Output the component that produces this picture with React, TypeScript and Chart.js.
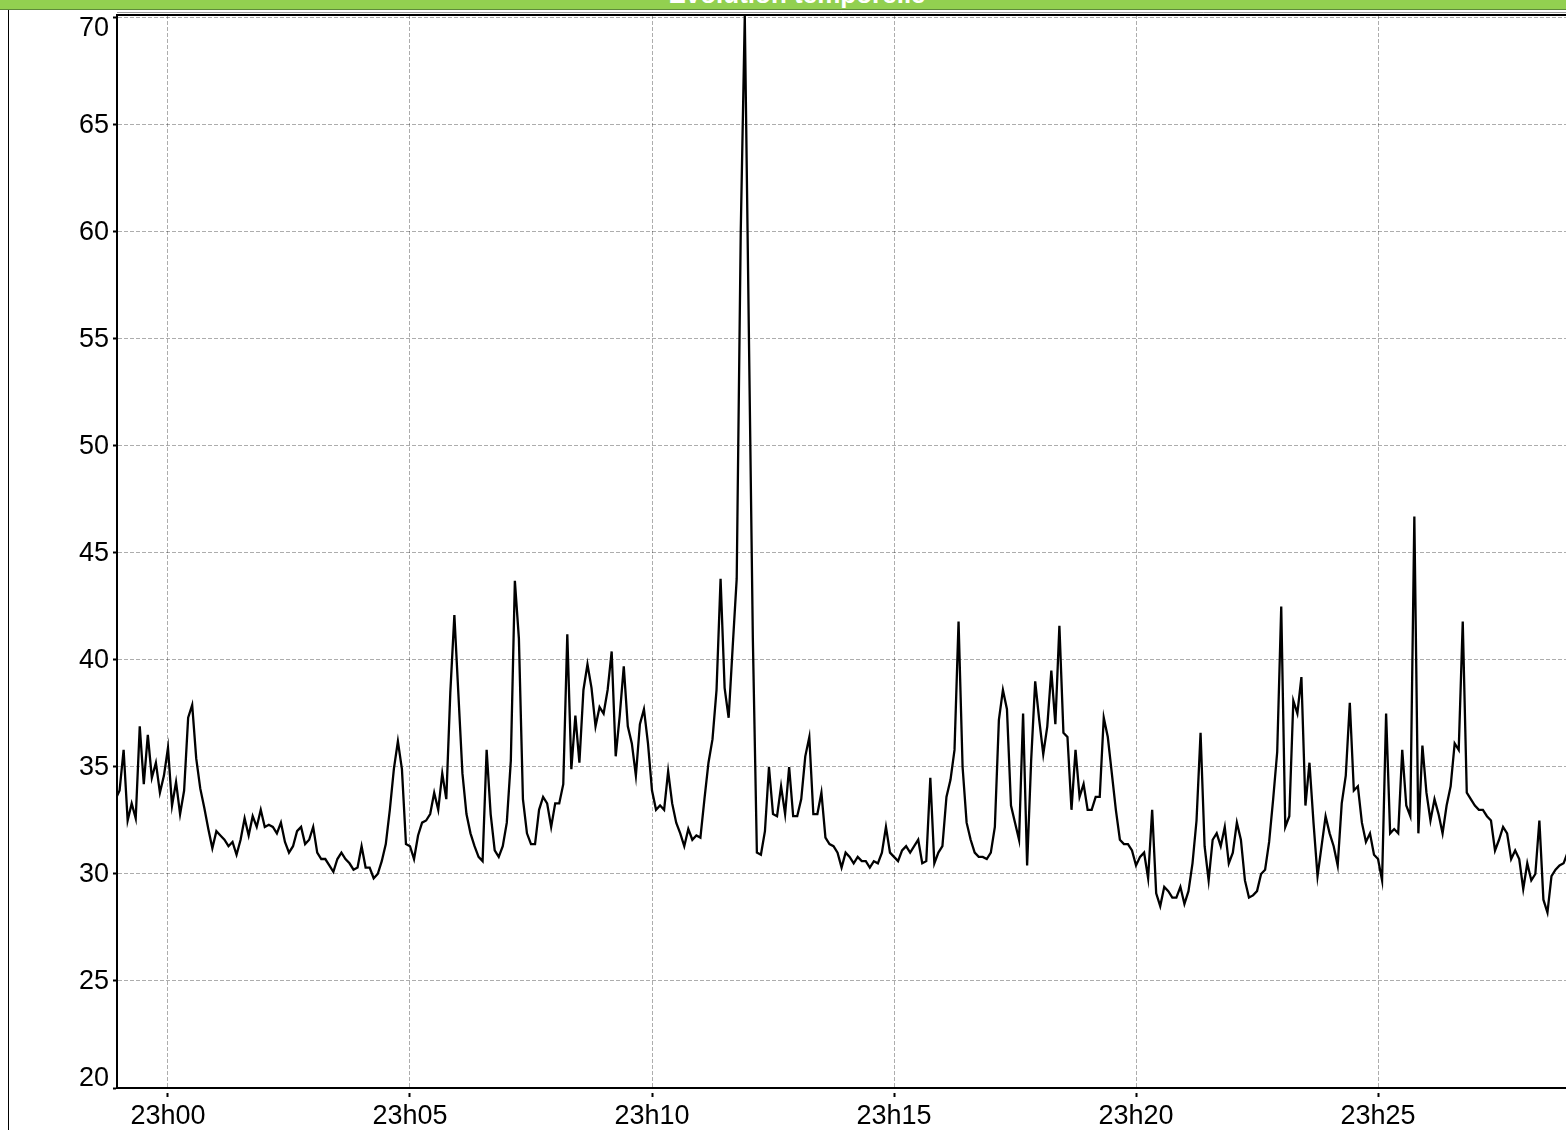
import React, { useEffect, useRef } from "react";
import { Chart, registerables } from "chart.js";

Chart.register(...registerables);

const TITLE = "Evolution temporelle";

// Sampling of the series: seconds relative to 23h00, one value every 5 s
const START_SECONDS = -65;
const STEP_SECONDS = 5;

// 22h58m55 -> 23h06m25
const VALUES_1 = [
  33.5, 33.9, 35.8, 32.5, 33.3, 32.6, 36.9, 34.2, 36.5, 34.5,
  35.2, 33.8, 34.6, 35.9, 33.2, 34.3, 32.8, 33.9, 37.3, 37.9,
  35.4, 34.0, 33.1, 32.1, 31.2, 32.0, 31.8, 31.6, 31.3, 31.5,
  30.9, 31.6, 32.6, 31.8, 32.7, 32.2, 33.0, 32.2, 32.3, 32.2,
  31.9, 32.4, 31.5, 31.0, 31.3, 32.0, 32.2, 31.4, 31.6, 32.2,
  31.0, 30.7, 30.7, 30.4, 30.1, 30.7, 31.0, 30.7, 30.5, 30.2,
  30.3, 31.3, 30.3, 30.3, 29.8, 30.0, 30.6, 31.4, 33.0, 34.9,
  36.2, 34.9, 31.4, 31.3, 30.7, 31.8, 32.4, 32.5, 32.8, 33.8,
  33.0, 34.7, 33.5, 38.5, 42.1, 38.4, 34.7, 32.8, 31.9, 31.3,
];

// 23h06m25 -> 23h13m55
const VALUES_2 = [
  30.8, 30.6, 35.8, 32.8, 31.1, 30.8, 31.3, 32.4, 35.3, 43.7,
  41.0, 33.5, 31.9, 31.4, 31.4, 33.0, 33.6, 33.3, 32.2, 33.3,
  33.3, 34.2, 41.2, 34.9, 37.4, 35.2, 38.6, 39.8, 38.7, 36.9,
  37.8, 37.5, 38.6, 40.4, 35.5, 37.4, 39.7, 36.9, 36.1, 34.6,
  37.0, 37.7, 36.1, 33.9, 33.0, 33.2, 33.0, 34.8, 33.3, 32.4,
  31.9, 31.3, 32.1, 31.6, 31.8, 31.7, 33.5, 35.2, 36.3, 38.6,
  43.8, 38.7, 37.3, 40.6, 43.8, 60.0, 70.1, 55.5, 41.0, 31.0,
  30.9, 32.0, 35.0, 32.8, 32.7, 34.1, 32.8, 35.0, 32.7, 32.7,
  33.5, 35.5, 36.4, 32.8, 32.8, 33.8, 31.7, 31.4, 31.3, 31.0,
];

// 23h13m55 -> 23h21m25
const VALUES_3 = [
  30.3, 31.0, 30.8, 30.5, 30.8, 30.6, 30.6, 30.3, 30.6, 30.5,
  31.0, 32.2, 31.0, 30.8, 30.6, 31.1, 31.3, 31.0, 31.3, 31.6,
  30.5, 30.6, 34.5, 30.5, 31.0, 31.3, 33.6, 34.4, 35.8, 41.8,
  35.0, 32.4, 31.6, 31.0, 30.8, 30.8, 30.7, 31.0, 32.2, 37.2,
  38.6, 37.7, 33.2, 32.4, 31.6, 37.5, 30.4, 35.3, 39.0, 37.2,
  35.6, 36.9, 39.5, 37.0, 41.6, 36.6, 36.4, 33.0, 35.8, 33.6,
  34.2, 33.0, 33.0, 33.6, 33.6, 37.3, 36.4, 34.7, 33.0, 31.6,
  31.4, 31.4, 31.1, 30.4, 30.8, 31.0, 29.8, 33.0, 29.1, 28.5,
  29.4, 29.2, 28.9, 28.9, 29.4, 28.6, 29.2, 30.5, 32.5, 36.6,
];

// 23h21m25 -> 23h28m55
const VALUES_4 = [
  31.3, 29.7, 31.6, 31.9, 31.3, 32.2, 30.5, 31.0, 32.4, 31.6,
  29.7, 28.9, 29.0, 29.2, 30.0, 30.2, 31.5, 33.5, 35.7, 42.5,
  32.2, 32.7, 38.1, 37.5, 39.2, 33.2, 35.2, 32.4, 29.9, 31.3,
  32.7, 31.9, 31.3, 30.4, 33.3, 34.6, 38.0, 33.9, 34.1, 32.4,
  31.5, 31.9, 30.9, 30.7, 29.7, 37.5, 31.9, 32.1, 31.9, 35.8,
  33.2, 32.7, 46.7, 31.9, 36.0, 33.8, 32.5, 33.5, 32.8, 31.9,
  33.2, 34.1, 36.1, 35.8, 41.8, 33.8, 33.5, 33.2, 33.0, 33.0,
  32.7, 32.5, 31.1, 31.6, 32.2, 31.9, 30.7, 31.1, 30.7, 29.3,
  30.5, 29.7, 30.0, 32.5, 28.8, 28.2, 29.9, 30.2, 30.4, 30.5,
  31.0,
];

const X_TICKS_SECONDS = [0, 300, 600, 900, 1200, 1500];
const X_TICK_LABELS = ["23h00", "23h05", "23h10", "23h15", "23h20", "23h25"];
const X_MIN_SECONDS = -63.2;
const X_MAX_SECONDS = 1733;

const Y_TICKS = [20, 25, 30, 35, 40, 45, 50, 55, 60, 65, 70];
const Y_MIN = 20;
const Y_MAX = 70.14;

const FONT_FAMILY = '"Liberation Sans", Arial, Helvetica, sans-serif';

const yLabelsPlugin = {
  id: "yLabelsClamped",
  afterDraw(chart: any) {
    const ctx = chart.ctx;
    const ys = chart.scales.y;
    const topPx = ys.getPixelForValue(Y_TICKS[Y_TICKS.length - 1]);
    const botPx = ys.getPixelForValue(Y_TICKS[0]);
    ctx.save();
    ctx.font = `27px ${FONT_FAMILY}`;
    ctx.fillStyle = "#000";
    ctx.textAlign = "right";
    ctx.textBaseline = "middle";
    Y_TICKS.forEach((v) => {
      let py = ys.getPixelForValue(v);
      py = Math.max(topPx + 10, Math.min(botPx - 10, py));
      ctx.fillText(String(v), chart.chartArea.left - 8, py + 1);
    });
    ctx.restore();
  },
};

const topBorderPlugin = {
  id: "topBorder",
  afterDraw(chart: any) {
    const { ctx, chartArea } = chart;
    ctx.save();
    ctx.strokeStyle = "#000";
    ctx.lineWidth = 2;
    ctx.beginPath();
    ctx.moveTo(chartArea.left - 1, chartArea.top);
    ctx.lineTo(chartArea.right, chartArea.top);
    ctx.stroke();
    ctx.strokeStyle = "#9a9a9a";
    ctx.lineWidth = 1;
    ctx.beginPath();
    ctx.moveTo(chartArea.left, chartArea.top - 2.5);
    ctx.lineTo(chartArea.right, chartArea.top - 2.5);
    ctx.stroke();
    ctx.restore();
  },
};

export default function App() {
  const canvasRef = useRef<HTMLCanvasElement>(null);

  useEffect(() => {
    const canvas = canvasRef.current;
    if (!canvas) return;
    const values = [...VALUES_1, ...VALUES_2, ...VALUES_3, ...VALUES_4];
    const points = values.map((v, i) => ({ x: START_SECONDS + i * STEP_SECONDS, y: v }));

    const chart = new Chart(canvas, {
      type: "line",
      data: {
        datasets: [
          {
            data: points,
            borderColor: "#000",
            borderWidth: 2.3,
            pointRadius: 0,
            tension: 0,
            fill: false,
          },
        ],
      },
      options: {
        animation: false,
        responsive: false,
        maintainAspectRatio: false,
        layout: { padding: { top: 15, left: 0, right: 0, bottom: 0 } },
        plugins: {
          legend: { display: false },
          title: { display: false },
          tooltip: { enabled: false },
        },
        scales: {
          x: {
            type: "linear",
            min: X_MIN_SECONDS,
            max: X_MAX_SECONDS,
            afterBuildTicks: (scale: any) => {
              scale.ticks = X_TICKS_SECONDS.map((v) => ({ value: v }));
            },
            afterFit: (scale: any) => {
              scale.height = 42;
            },
            ticks: {
              autoSkip: false,
              maxRotation: 0,
              padding: 3,
              color: "#000",
              font: { size: 27, family: FONT_FAMILY },
              callback: (value: any) => {
                const idx = X_TICKS_SECONDS.indexOf(Number(value));
                return idx >= 0 ? X_TICK_LABELS[idx] : "";
              },
            },
            grid: {
              color: "rgba(0,0,0,0.32)",
              lineWidth: 1,
              tickLength: 9,
              tickColor: "#000",
              tickWidth: 2,
              tickBorderDash: [0, 4, 5, 30],
            } as any,
            border: { display: true, color: "#000", width: 2, dash: [4, 2] },
          },
          y: {
            type: "linear",
            min: Y_MIN,
            max: Y_MAX,
            afterBuildTicks: (scale: any) => {
              scale.ticks = Y_TICKS.map((v) => ({ value: v }));
            },
            afterFit: (scale: any) => {
              scale.width = 117;
            },
            ticks: { display: false },
            grid: {
              color: "rgba(0,0,0,0.32)",
              lineWidth: 1,
              tickLength: 4,
              tickColor: "#000",
              tickWidth: 2,
            },
            border: { display: true, color: "#000", width: 2, dash: [4, 2] },
          },
        },
      },
      plugins: [yLabelsPlugin, topBorderPlugin],
    } as any);

    return () => chart.destroy();
  }, []);

  return (
    <div
      style={{
        position: "absolute",
        left: 0,
        top: 0,
        width: 1566,
        height: 1130,
        overflow: "hidden",
        background: "#fff",
      }}
    >
      <canvas
        ref={canvasRef}
        width={1566}
        height={1130}
        style={{ position: "absolute", left: 0, top: 0, width: 1566, height: 1130 }}
      />
      <div
        style={{
          position: "absolute",
          left: 0,
          top: 0,
          width: 1566,
          height: 9,
          background: "#92d050",
          borderBottom: "1px solid #5e8a3a",
          overflow: "hidden",
        }}
      >
        <div
          style={{
            position: "absolute",
            left: 0,
            top: -19,
            width: 1594,
            textAlign: "center",
            color: "#fff",
            fontFamily: FONT_FAMILY,
            fontWeight: "bold",
            fontSize: 26,
            lineHeight: "26px",
            whiteSpace: "nowrap",
          }}
        >
          {TITLE}
        </div>
      </div>
      <div
        style={{
          position: "absolute",
          left: 8,
          top: 10,
          width: 1,
          height: 1120,
          background: "#000",
        }}
      />
    </div>
  );
}
